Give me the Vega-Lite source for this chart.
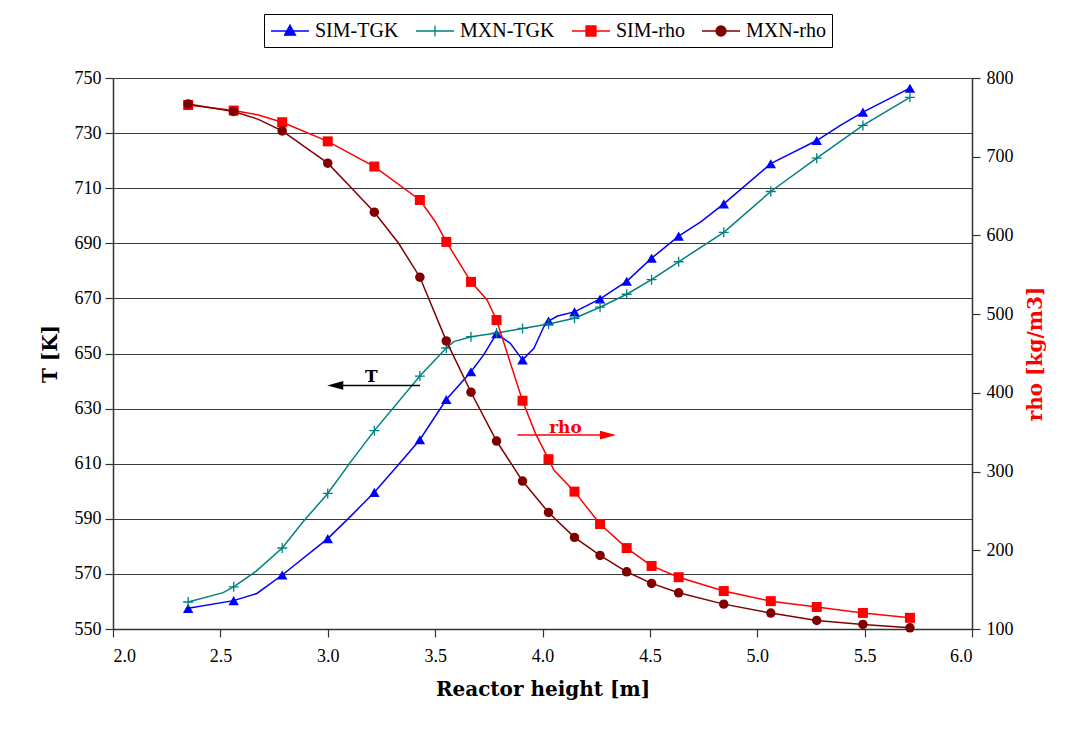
{
  "$schema": "https://vega.github.io/schema/vega-lite/v6.json",
  "width": 859,
  "height": 551,
  "autosize": "none",
  "padding": {"left": 113, "top": 78, "right": 98, "bottom": 102},
  "background": "white",
  "config": {
    "font": "Liberation Serif, DejaVu Serif, Noto Serif, serif",
    "view": {"stroke": null},
    "axis": {
      "labelFont": "Liberation Serif, DejaVu Serif, Noto Serif, serif", "labelFontSize": 18, "labelColor": "black",
      "titleFont": "DejaVu Serif", "titleFontWeight": "bold", "titleFontSize": 20, "titleColor": "black",
      "domainColor": "#333333", "domainWidth": 1.5, "tickColor": "#333333", "tickWidth": 1.2, "tickSize": 8,
      "gridColor": "#3a3a3a", "gridWidth": 1
    },
    "line": {"strokeWidth": 1.5},
    "point": {"filled": true, "size": 100, "strokeWidth": 1.3, "opacity": 1}
  },
  "datasets": {
    "series": [
      {"series": "SIM-TGK"}, {"series": "MXN-TGK"}, {"series": "SIM-rho"}, {"series": "MXN-rho"}
    ],
    "tline": [
      {"series": "SIM-TGK", "x": 2.35, "T": 557.5},
      {"series": "SIM-TGK", "x": 2.562, "T": 560.3},
      {"series": "SIM-TGK", "x": 2.67, "T": 562.9},
      {"series": "SIM-TGK", "x": 2.788, "T": 569.6},
      {"series": "SIM-TGK", "x": 3.0, "T": 582.8},
      {"series": "SIM-TGK", "x": 3.105, "T": 590.8},
      {"series": "SIM-TGK", "x": 3.217, "T": 599.6},
      {"series": "SIM-TGK", "x": 3.338, "T": 610.4},
      {"series": "SIM-TGK", "x": 3.429, "T": 618.7},
      {"series": "SIM-TGK", "x": 3.552, "T": 633.3},
      {"series": "SIM-TGK", "x": 3.667, "T": 643.4},
      {"series": "SIM-TGK", "x": 3.726, "T": 649.5},
      {"series": "SIM-TGK", "x": 3.786, "T": 657.2},
      {"series": "SIM-TGK", "x": 3.85, "T": 653.7},
      {"series": "SIM-TGK", "x": 3.907, "T": 647.7},
      {"series": "SIM-TGK", "x": 3.96, "T": 651.9},
      {"series": "SIM-TGK", "x": 4.006, "T": 659.7},
      {"series": "SIM-TGK", "x": 4.028, "T": 661.8},
      {"series": "SIM-TGK", "x": 4.07, "T": 663.6},
      {"series": "SIM-TGK", "x": 4.149, "T": 665.1},
      {"series": "SIM-TGK", "x": 4.268, "T": 669.8},
      {"series": "SIM-TGK", "x": 4.392, "T": 676.2},
      {"series": "SIM-TGK", "x": 4.508, "T": 684.6},
      {"series": "SIM-TGK", "x": 4.634, "T": 692.6},
      {"series": "SIM-TGK", "x": 4.737, "T": 697.8},
      {"series": "SIM-TGK", "x": 4.844, "T": 704.3},
      {"series": "SIM-TGK", "x": 5.063, "T": 718.9},
      {"series": "SIM-TGK", "x": 5.125, "T": 721.4},
      {"series": "SIM-TGK", "x": 5.277, "T": 727.3},
      {"series": "SIM-TGK", "x": 5.389, "T": 732.9},
      {"series": "SIM-TGK", "x": 5.492, "T": 737.6},
      {"series": "SIM-TGK", "x": 5.711, "T": 746.3},
      {"series": "MXN-TGK", "x": 2.35, "T": 559.8},
      {"series": "MXN-TGK", "x": 2.513, "T": 563.2},
      {"series": "MXN-TGK", "x": 2.562, "T": 565.3},
      {"series": "MXN-TGK", "x": 2.667, "T": 571.0},
      {"series": "MXN-TGK", "x": 2.788, "T": 579.4},
      {"series": "MXN-TGK", "x": 2.886, "T": 589.0},
      {"series": "MXN-TGK", "x": 3.0, "T": 599.2},
      {"series": "MXN-TGK", "x": 3.105, "T": 610.5},
      {"series": "MXN-TGK", "x": 3.217, "T": 622.0},
      {"series": "MXN-TGK", "x": 3.429, "T": 641.8},
      {"series": "MXN-TGK", "x": 3.552, "T": 652.0},
      {"series": "MXN-TGK", "x": 3.587, "T": 654.3},
      {"series": "MXN-TGK", "x": 3.667, "T": 656.1},
      {"series": "MXN-TGK", "x": 3.786, "T": 657.4},
      {"series": "MXN-TGK", "x": 3.907, "T": 659.1},
      {"series": "MXN-TGK", "x": 4.028, "T": 660.7},
      {"series": "MXN-TGK", "x": 4.149, "T": 662.8},
      {"series": "MXN-TGK", "x": 4.268, "T": 666.8},
      {"series": "MXN-TGK", "x": 4.392, "T": 671.5},
      {"series": "MXN-TGK", "x": 4.508, "T": 676.8},
      {"series": "MXN-TGK", "x": 4.634, "T": 683.3},
      {"series": "MXN-TGK", "x": 4.844, "T": 694.0},
      {"series": "MXN-TGK", "x": 5.063, "T": 708.8},
      {"series": "MXN-TGK", "x": 5.277, "T": 720.9},
      {"series": "MXN-TGK", "x": 5.492, "T": 732.8},
      {"series": "MXN-TGK", "x": 5.711, "T": 743.0}
    ],
    "tmark": [
      {"series": "SIM-TGK", "x": 2.35, "T": 557.5},
      {"series": "SIM-TGK", "x": 2.562, "T": 560.3},
      {"series": "SIM-TGK", "x": 2.788, "T": 569.6},
      {"series": "SIM-TGK", "x": 3.0, "T": 582.8},
      {"series": "SIM-TGK", "x": 3.217, "T": 599.6},
      {"series": "SIM-TGK", "x": 3.429, "T": 618.7},
      {"series": "SIM-TGK", "x": 3.552, "T": 633.3},
      {"series": "SIM-TGK", "x": 3.667, "T": 643.4},
      {"series": "SIM-TGK", "x": 3.786, "T": 657.2},
      {"series": "SIM-TGK", "x": 3.907, "T": 647.7},
      {"series": "SIM-TGK", "x": 4.028, "T": 661.8},
      {"series": "SIM-TGK", "x": 4.149, "T": 665.1},
      {"series": "SIM-TGK", "x": 4.268, "T": 669.8},
      {"series": "SIM-TGK", "x": 4.392, "T": 676.2},
      {"series": "SIM-TGK", "x": 4.508, "T": 684.6},
      {"series": "SIM-TGK", "x": 4.634, "T": 692.6},
      {"series": "SIM-TGK", "x": 4.844, "T": 704.3},
      {"series": "SIM-TGK", "x": 5.063, "T": 718.9},
      {"series": "SIM-TGK", "x": 5.277, "T": 727.3},
      {"series": "SIM-TGK", "x": 5.492, "T": 737.6},
      {"series": "SIM-TGK", "x": 5.711, "T": 746.3},
      {"series": "MXN-TGK", "x": 2.35, "T": 559.8},
      {"series": "MXN-TGK", "x": 2.562, "T": 565.3},
      {"series": "MXN-TGK", "x": 2.788, "T": 579.4},
      {"series": "MXN-TGK", "x": 3.0, "T": 599.2},
      {"series": "MXN-TGK", "x": 3.217, "T": 622.0},
      {"series": "MXN-TGK", "x": 3.429, "T": 641.8},
      {"series": "MXN-TGK", "x": 3.552, "T": 652.0},
      {"series": "MXN-TGK", "x": 3.667, "T": 656.1},
      {"series": "MXN-TGK", "x": 3.786, "T": 657.4},
      {"series": "MXN-TGK", "x": 3.907, "T": 659.1},
      {"series": "MXN-TGK", "x": 4.028, "T": 660.7},
      {"series": "MXN-TGK", "x": 4.149, "T": 662.8},
      {"series": "MXN-TGK", "x": 4.268, "T": 666.8},
      {"series": "MXN-TGK", "x": 4.392, "T": 671.5},
      {"series": "MXN-TGK", "x": 4.508, "T": 676.8},
      {"series": "MXN-TGK", "x": 4.634, "T": 683.3},
      {"series": "MXN-TGK", "x": 4.844, "T": 694.0},
      {"series": "MXN-TGK", "x": 5.063, "T": 708.8},
      {"series": "MXN-TGK", "x": 5.277, "T": 720.9},
      {"series": "MXN-TGK", "x": 5.492, "T": 732.8},
      {"series": "MXN-TGK", "x": 5.711, "T": 743.0}
    ],
    "rline": [
      {"series": "SIM-rho", "x": 2.35, "rho": 765.7},
      {"series": "SIM-rho", "x": 2.562, "rho": 758.6},
      {"series": "SIM-rho", "x": 2.677, "rho": 753.0},
      {"series": "SIM-rho", "x": 2.788, "rho": 743.8},
      {"series": "SIM-rho", "x": 3.0, "rho": 719.5},
      {"series": "SIM-rho", "x": 3.217, "rho": 687.5},
      {"series": "SIM-rho", "x": 3.429, "rho": 645.0},
      {"series": "SIM-rho", "x": 3.501, "rho": 617.4},
      {"series": "SIM-rho", "x": 3.552, "rho": 591.8},
      {"series": "SIM-rho", "x": 3.667, "rho": 541.0},
      {"series": "SIM-rho", "x": 3.742, "rho": 518.0},
      {"series": "SIM-rho", "x": 3.786, "rho": 492.5},
      {"series": "SIM-rho", "x": 3.907, "rho": 390.0},
      {"series": "SIM-rho", "x": 3.967, "rho": 348.5},
      {"series": "SIM-rho", "x": 4.028, "rho": 315.7},
      {"series": "SIM-rho", "x": 4.053, "rho": 301.9},
      {"series": "SIM-rho", "x": 4.149, "rho": 274.5},
      {"series": "SIM-rho", "x": 4.268, "rho": 233.3},
      {"series": "SIM-rho", "x": 4.392, "rho": 202.8},
      {"series": "SIM-rho", "x": 4.508, "rho": 180.1},
      {"series": "SIM-rho", "x": 4.634, "rho": 165.8},
      {"series": "SIM-rho", "x": 4.844, "rho": 148.2},
      {"series": "SIM-rho", "x": 5.063, "rho": 135.4},
      {"series": "SIM-rho", "x": 5.277, "rho": 128.0},
      {"series": "SIM-rho", "x": 5.492, "rho": 120.4},
      {"series": "SIM-rho", "x": 5.711, "rho": 114.2},
      {"series": "MXN-rho", "x": 2.35, "rho": 767.0},
      {"series": "MXN-rho", "x": 2.562, "rho": 757.5},
      {"series": "MXN-rho", "x": 2.677, "rho": 747.5},
      {"series": "MXN-rho", "x": 2.788, "rho": 732.8},
      {"series": "MXN-rho", "x": 3.0, "rho": 691.8},
      {"series": "MXN-rho", "x": 3.105, "rho": 661.9},
      {"series": "MXN-rho", "x": 3.217, "rho": 629.5},
      {"series": "MXN-rho", "x": 3.33, "rho": 590.0},
      {"series": "MXN-rho", "x": 3.429, "rho": 546.9},
      {"series": "MXN-rho", "x": 3.552, "rho": 466.0},
      {"series": "MXN-rho", "x": 3.667, "rho": 400.8},
      {"series": "MXN-rho", "x": 3.786, "rho": 338.8},
      {"series": "MXN-rho", "x": 3.907, "rho": 287.9},
      {"series": "MXN-rho", "x": 4.028, "rho": 248.1},
      {"series": "MXN-rho", "x": 4.149, "rho": 216.4},
      {"series": "MXN-rho", "x": 4.268, "rho": 193.5},
      {"series": "MXN-rho", "x": 4.392, "rho": 172.7},
      {"series": "MXN-rho", "x": 4.508, "rho": 157.9},
      {"series": "MXN-rho", "x": 4.634, "rho": 146.0},
      {"series": "MXN-rho", "x": 4.844, "rho": 131.6},
      {"series": "MXN-rho", "x": 5.063, "rho": 120.2},
      {"series": "MXN-rho", "x": 5.277, "rho": 110.9},
      {"series": "MXN-rho", "x": 5.492, "rho": 105.8},
      {"series": "MXN-rho", "x": 5.711, "rho": 101.5}
    ],
    "rmark": [
      {"series": "SIM-rho", "x": 2.35, "rho": 765.7},
      {"series": "SIM-rho", "x": 2.562, "rho": 758.6},
      {"series": "SIM-rho", "x": 2.788, "rho": 743.8},
      {"series": "SIM-rho", "x": 3.0, "rho": 719.5},
      {"series": "SIM-rho", "x": 3.217, "rho": 687.5},
      {"series": "SIM-rho", "x": 3.429, "rho": 645.0},
      {"series": "SIM-rho", "x": 3.552, "rho": 591.8},
      {"series": "SIM-rho", "x": 3.667, "rho": 541.0},
      {"series": "SIM-rho", "x": 3.786, "rho": 492.5},
      {"series": "SIM-rho", "x": 3.907, "rho": 390.0},
      {"series": "SIM-rho", "x": 4.028, "rho": 315.7},
      {"series": "SIM-rho", "x": 4.149, "rho": 274.5},
      {"series": "SIM-rho", "x": 4.268, "rho": 233.3},
      {"series": "SIM-rho", "x": 4.392, "rho": 202.8},
      {"series": "SIM-rho", "x": 4.508, "rho": 180.1},
      {"series": "SIM-rho", "x": 4.634, "rho": 165.8},
      {"series": "SIM-rho", "x": 4.844, "rho": 148.2},
      {"series": "SIM-rho", "x": 5.063, "rho": 135.4},
      {"series": "SIM-rho", "x": 5.277, "rho": 128.0},
      {"series": "SIM-rho", "x": 5.492, "rho": 120.4},
      {"series": "SIM-rho", "x": 5.711, "rho": 114.2},
      {"series": "MXN-rho", "x": 2.35, "rho": 767.0},
      {"series": "MXN-rho", "x": 2.562, "rho": 757.5},
      {"series": "MXN-rho", "x": 2.788, "rho": 732.8},
      {"series": "MXN-rho", "x": 3.0, "rho": 691.8},
      {"series": "MXN-rho", "x": 3.217, "rho": 629.5},
      {"series": "MXN-rho", "x": 3.429, "rho": 546.9},
      {"series": "MXN-rho", "x": 3.552, "rho": 466.0},
      {"series": "MXN-rho", "x": 3.667, "rho": 400.8},
      {"series": "MXN-rho", "x": 3.786, "rho": 338.8},
      {"series": "MXN-rho", "x": 3.907, "rho": 287.9},
      {"series": "MXN-rho", "x": 4.028, "rho": 248.1},
      {"series": "MXN-rho", "x": 4.149, "rho": 216.4},
      {"series": "MXN-rho", "x": 4.268, "rho": 193.5},
      {"series": "MXN-rho", "x": 4.392, "rho": 172.7},
      {"series": "MXN-rho", "x": 4.508, "rho": 157.9},
      {"series": "MXN-rho", "x": 4.634, "rho": 146.0},
      {"series": "MXN-rho", "x": 4.844, "rho": 131.6},
      {"series": "MXN-rho", "x": 5.063, "rho": 120.2},
      {"series": "MXN-rho", "x": 5.277, "rho": 110.9},
      {"series": "MXN-rho", "x": 5.492, "rho": 105.8},
      {"series": "MXN-rho", "x": 5.711, "rho": 101.5}
    ],
    "tarrow": [{"x": 3.43, "x2": 3.035, "T": 638.4, "label": "T", "lx": 3.203, "lT": 641.6}],
    "rarrow": [{"x": 3.883, "x2": 4.305, "rho": 346.4, "label": "rho", "lx": 4.107, "lrho": 355.0}]
  },
  "layer": [
    {
      "layer": [
        {
          "data": {"name": "tline"},
          "transform": [{"filter": "datum.series === 'SIM-TGK'"}],
          "mark": {"type": "line", "color": "#0000ff"},
          "encoding": {
            "x": {"field": "x", "type": "quantitative", "scale": {"domain": [2, 6], "nice": false, "zero": false},
                  "axis": {"title": "Reactor height [m]", "values": [2, 2.5, 3, 3.5, 4, 4.5, 5, 5.5, 6], "format": ".1f", "grid": false, "labelPadding": 10, "titlePadding": 14}},
            "y": {"field": "T", "type": "quantitative", "scale": {"domain": [550, 750], "nice": false, "zero": false},
                  "axis": {"title": "T [K]", "values": [550, 570, 590, 610, 630, 650, 670, 690, 710, 730, 750], "grid": true, "labelPadding": 4, "titlePadding": 14}}
          }
        },
        {
          "data": {"name": "tline"},
          "transform": [{"filter": "datum.series === 'MXN-TGK'"}],
          "mark": {"type": "line", "color": "#008080"},
          "encoding": {"x": {"field": "x", "type": "quantitative"}, "y": {"field": "T", "type": "quantitative"}}
        },
        {
          "data": {"name": "tmark"},
          "transform": [{"filter": "datum.series === 'SIM-TGK'"}],
          "mark": {"type": "point", "shape": "triangle-up", "color": "#0000ff", "size": 110},
          "encoding": {"x": {"field": "x", "type": "quantitative"}, "y": {"field": "T", "type": "quantitative"}}
        },
        {
          "data": {"name": "tmark"},
          "transform": [{"filter": "datum.series === 'MXN-TGK'"}],
          "mark": {"type": "point", "shape": "M-1,0H1M0,-1V1", "filled": false, "color": "#008080", "strokeWidth": 1.3},
          "encoding": {"x": {"field": "x", "type": "quantitative"}, "y": {"field": "T", "type": "quantitative"}}
        },
        {
          "data": {"name": "tarrow"},
          "mark": {"type": "rule", "color": "black", "strokeWidth": 1.5},
          "encoding": {
            "x": {"field": "x", "type": "quantitative"},
            "x2": {"field": "x2"},
            "y": {"field": "T", "type": "quantitative"}
          }
        },
        {
          "data": {"name": "tarrow"},
          "mark": {"type": "point", "color": "black", "size": 256, "shape": "M1,-0.55L-1,0L1,0.55Z"},
          "encoding": {"x": {"field": "x2", "type": "quantitative"}, "y": {"field": "T", "type": "quantitative"}}
        },
        {
          "data": {"name": "tarrow"},
          "mark": {"type": "text", "font": "DejaVu Serif", "fontWeight": "bold", "fontSize": 17, "color": "black"},
          "encoding": {
            "x": {"field": "lx", "type": "quantitative"},
            "y": {"field": "lT", "type": "quantitative"},
            "text": {"field": "label"}
          }
        },
        {
          "data": {"name": "series"},
          "mark": {"type": "point", "filled": true, "opacity": 0, "size": 400},
          "encoding": {
            "color": {"field": "series", "type": "nominal",
              "scale": {"domain": ["SIM-TGK", "MXN-TGK", "SIM-rho", "MXN-rho"], "range": ["#0000ff", "#008080", "#ff0000", "#800000"]},
              "legend": {"title": null, "orient": "none", "legendX": 151, "legendY": -64, "direction": "horizontal", "columns": 4,
                "labelFont": "Liberation Serif, DejaVu Serif, Noto Serif, serif", "labelFontSize": 20, "labelColor": "black", "symbolSize": 400, "labelOffset": 23,
                "columnPadding": 14, "padding": 6, "strokeColor": "black", "fillColor": "white", "symbolOpacity": 1, "symbolStrokeWidth": 1.5}},
            "stroke": {"field": "series", "type": "nominal",
              "scale": {"domain": ["SIM-TGK", "MXN-TGK", "SIM-rho", "MXN-rho"], "range": ["#0000ff", "#008080", "#ff0000", "#800000"]},
              "legend": {"title": null}},
            "shape": {"field": "series", "type": "nominal",
              "scale": {"domain": ["SIM-TGK", "MXN-TGK", "SIM-rho", "MXN-rho"], "range": ["M-1,0H2.8M0.9,-0.6L1.45,0.42L0.35,0.42Z", "M-1,0H2.8M0.9,-0.55V0.55", "M-1,0H2.8M0.4,-0.5H1.4V0.5H0.4Z", "M-1,0H2.8M0.4,0A0.5,0.5 0 1,1 1.4,0A0.5,0.5 0 1,1 0.4,0Z"]},
              "legend": {"title": null}}
          }
        }
      ]
    },
    {
      "layer": [
        {
          "data": {"name": "rline"},
          "transform": [{"filter": "datum.series === 'SIM-rho'"}],
          "mark": {"type": "line", "color": "#ff0000"},
          "encoding": {
            "x": {"field": "x", "type": "quantitative"},
            "y": {"field": "rho", "type": "quantitative", "scale": {"domain": [100, 800], "nice": false, "zero": false},
                  "axis": {"orient": "right", "title": "rho [kg/m3]", "titleColor": "#ff0000", "titleAngle": 270, "titleBaseline": "top", "values": [100, 200, 300, 400, 500, 600, 700, 800], "grid": false, "labelPadding": 6, "titlePadding": 12}}
          }
        },
        {
          "data": {"name": "rline"},
          "transform": [{"filter": "datum.series === 'MXN-rho'"}],
          "mark": {"type": "line", "color": "#800000"},
          "encoding": {"x": {"field": "x", "type": "quantitative"}, "y": {"field": "rho", "type": "quantitative"}}
        },
        {
          "data": {"name": "rmark"},
          "transform": [{"filter": "datum.series === 'SIM-rho'"}],
          "mark": {"type": "point", "shape": "square", "color": "#ff0000", "size": 100},
          "encoding": {"x": {"field": "x", "type": "quantitative"}, "y": {"field": "rho", "type": "quantitative"}}
        },
        {
          "data": {"name": "rmark"},
          "transform": [{"filter": "datum.series === 'MXN-rho'"}],
          "mark": {"type": "point", "shape": "circle", "color": "#800000", "size": 90},
          "encoding": {"x": {"field": "x", "type": "quantitative"}, "y": {"field": "rho", "type": "quantitative"}}
        },
        {
          "data": {"name": "rarrow"},
          "mark": {"type": "rule", "color": "#ff0000", "strokeWidth": 1.5},
          "encoding": {
            "x": {"field": "x", "type": "quantitative"},
            "x2": {"field": "x2"},
            "y": {"field": "rho", "type": "quantitative"}
          }
        },
        {
          "data": {"name": "rarrow"},
          "mark": {"type": "point", "color": "#ff0000", "size": 256, "shape": "M-1,-0.55L1,0L-1,0.55Z"},
          "encoding": {"x": {"field": "x2", "type": "quantitative"}, "y": {"field": "rho", "type": "quantitative"}}
        },
        {
          "data": {"name": "rarrow"},
          "mark": {"type": "text", "font": "DejaVu Serif", "fontWeight": "bold", "fontSize": 17, "color": "#ff0000"},
          "encoding": {
            "x": {"field": "lx", "type": "quantitative"},
            "y": {"field": "lrho", "type": "quantitative"},
            "text": {"field": "label"}
          }
        }
      ]
    }
  ],
  "resolve": {"scale": {"y": "independent"}}
}
